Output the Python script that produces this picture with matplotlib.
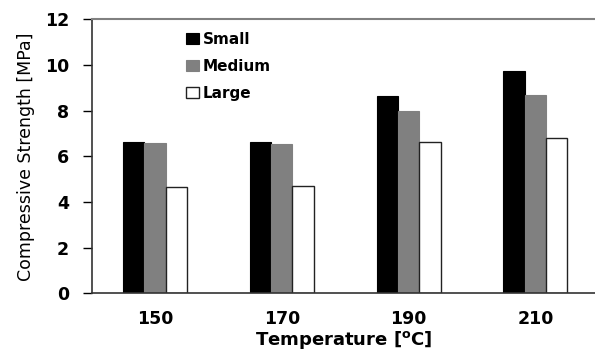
import matplotlib
matplotlib.use("Agg")
import matplotlib.pyplot as plt
import numpy as np

# Datos
temperaturas = ["150", "170", "190", "210"]
small = [6.63, 6.63, 8.63, 9.72]
medium = [6.59, 6.52, 7.99, 8.67]
large = [4.64, 4.71, 6.63, 6.82]
series = ["Small", "Medium", "Large"]
y_ticks = [0, 2, 4, 6, 8, 10, 12]

plt.rcParams['font.family'] = ['DejaVu Sans']

fig = plt.figure(figsize=(5.95, 3.51), dpi=100)
ax = fig.add_axes([0.154, 0.164, 0.846, 0.781])

x = np.arange(len(temperaturas))
w = 0.168
ax.bar(x - w, small, w, color="black", edgecolor="black", linewidth=0.8, label=series[0])
ax.bar(x, medium, w, color="#808080", edgecolor="#808080", linewidth=0.8, label=series[1])
ax.bar(x + w, large, w, color="white", edgecolor="#222222", linewidth=1.0, label=series[2])

ax.set_xlim(-0.5, 3.47)
ax.set_ylim(0, 12)
ax.set_yticks(y_ticks, [str(v) for v in y_ticks], fontsize=12.5, fontweight="bold")
ax.set_xticks(x, temperaturas, fontsize=12.5, fontweight="bold")
ax.tick_params(axis="x", length=0, pad=12)
ax.tick_params(axis="y", direction="out", length=6.3, width=1, pad=10)

ax.spines["right"].set_visible(False)
ax.spines["top"].set_color("#808080")
ax.spines["top"].set_linewidth(1.5)
ax.spines["left"].set_color("#333333")
ax.spines["bottom"].set_color("#333333")
ax.spines["left"].set_linewidth(1.2)
ax.spines["bottom"].set_linewidth(1.2)

ax.set_ylabel("Compressive Strength [MPa]", fontsize=12.5, labelpad=7)
ax.set_xlabel(r"Temperature [$^{\mathbf{o}}$C]", fontsize=13, fontweight="bold", labelpad=1)

leg = ax.legend(loc="upper left", bbox_to_anchor=(0.16, 1.005), frameon=False,
                handlelength=0.85, handleheight=0.75, handletextpad=0.25,
                labelspacing=0.8, prop={"weight": "bold", "size": 11})

fig.savefig("out.png", dpi=100)
